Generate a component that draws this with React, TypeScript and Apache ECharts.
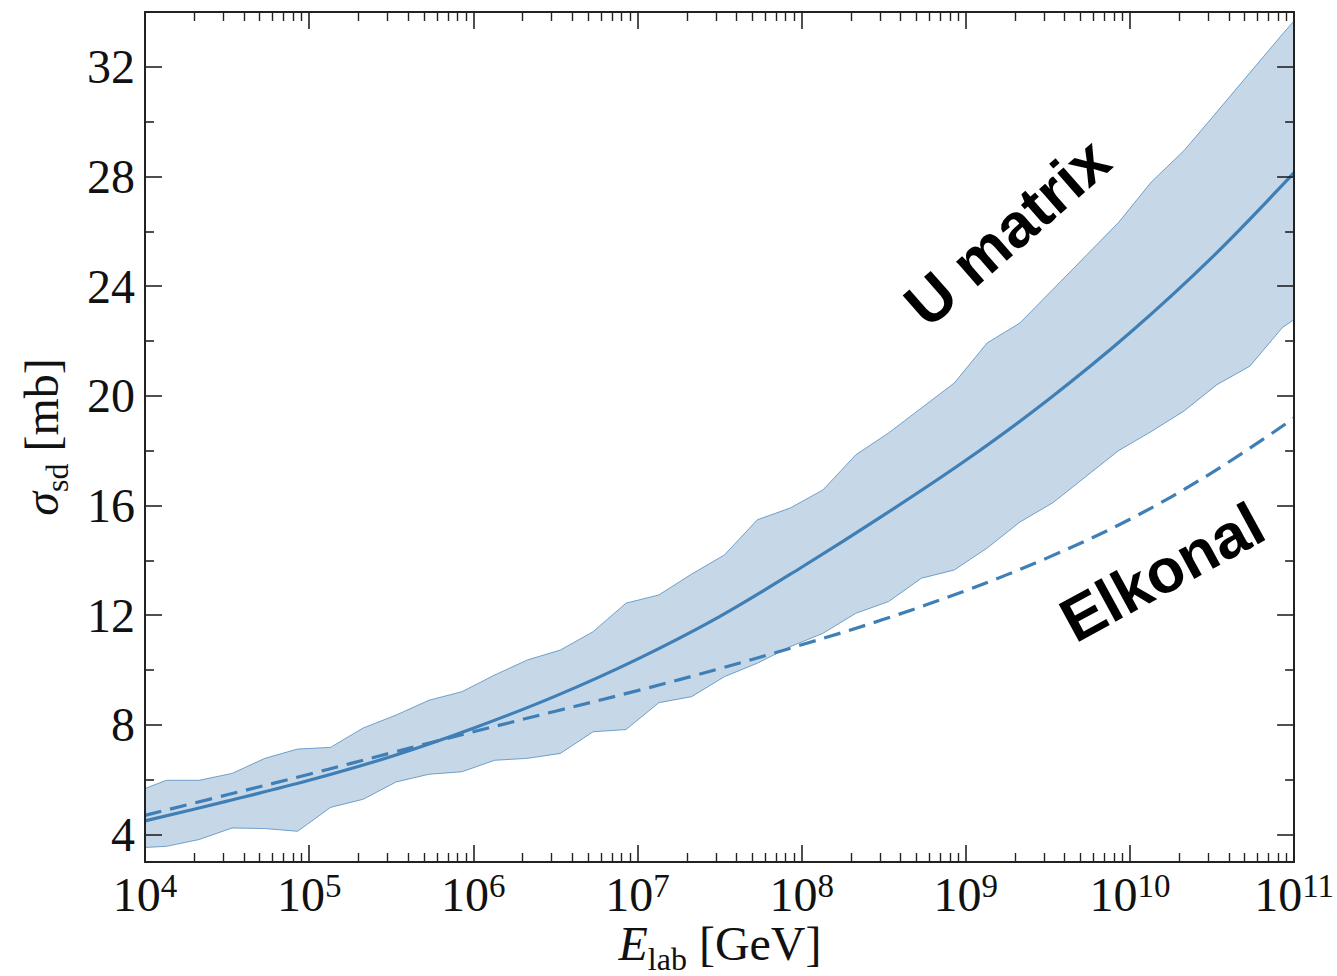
import React, { useEffect, useRef } from 'react';
import * as echarts from 'echarts';

// log10(E_lab / GeV) grid of the U-matrix uncertainty band
const bandLogE = [4.0, 4.13, 4.33, 4.53, 4.73, 4.93, 5.13, 5.33, 5.53, 5.73, 5.93, 6.13, 6.33, 6.53, 6.73, 6.93, 7.13, 7.33, 7.53, 7.73, 7.93, 8.13, 8.33, 8.53, 8.73, 8.93, 9.13, 9.33, 9.53, 9.73, 9.93, 10.13, 10.33, 10.53, 10.73, 10.93, 11.0];
const bandUpper = [5.68, 5.98, 5.98, 6.23, 6.78, 7.12, 7.18, 7.89, 8.36, 8.9, 9.21, 9.82, 10.37, 10.73, 11.4, 12.44, 12.74, 13.5, 14.2, 15.48, 15.91, 16.57, 17.85, 18.65, 19.56, 20.47, 21.93, 22.66, 23.88, 25.1, 26.32, 27.8, 28.95, 30.36, 31.78, 33.2, 33.68];
const bandLower = [3.53, 3.57, 3.82, 4.24, 4.22, 4.12, 4.99, 5.29, 5.92, 6.2, 6.29, 6.71, 6.78, 6.96, 7.75, 7.83, 8.81, 9.03, 9.76, 10.25, 10.85, 11.34, 12.07, 12.5, 13.35, 13.65, 14.45, 15.4, 16.1, 17.05, 18.0, 18.7, 19.45, 20.41, 21.08, 22.5, 22.78];

// central curves
const curveLogE = [4.0, 4.5, 5.0, 5.5, 6.0, 6.5, 7.0, 7.5, 8.0, 8.5, 9.0, 9.5, 10.0, 10.5, 11.0];
const uMatrix = [4.5, 5.22, 5.98, 6.85, 7.88, 9.05, 10.4, 11.95, 13.75, 15.65, 17.65, 19.85, 22.3, 25.05, 28.14];
const eikonal = [4.7, 5.45, 6.2, 6.98, 7.75, 8.5, 9.25, 10.05, 10.92, 11.85, 12.9, 14.1, 15.5, 17.2, 19.19];

const yMajorTicks = [4, 8, 12, 16, 20, 24, 28, 32];
const yMinorTicks = [6, 10, 14, 18, 22, 26, 30];

const BLUE = '#3f7fb6';
const SERIF = '"Liberation Serif", "DejaVu Serif", serif';
const SANS = '"Liberation Sans", Arial, sans-serif';
const AXIS_COLOR = '#222';

export default function App() {
  const ref = useRef<HTMLDivElement>(null);

  useEffect(() => {
    if (!ref.current) return;
    const chart = echarts.init(ref.current, undefined, { renderer: 'svg' });

    const xCommon = (position: 'bottom' | 'top', showLabel: boolean) => ({
      type: 'log',
      logBase: 10,
      min: 1e4,
      max: 1e11,
      position,
      z: 10,
      axisLine: { show: true, onZero: false, lineStyle: { color: AXIS_COLOR, width: 2 } },
      axisTick: { show: true, inside: true, length: 17, lineStyle: { color: AXIS_COLOR, width: 1.6 } },
      minorTick: { show: true, splitNumber: 9, length: 9, lineStyle: { color: AXIS_COLOR, width: 1.4 } },
      splitLine: { show: false },
      minorSplitLine: { show: false },
      axisLabel: {
        show: showLabel,
        margin: 6,
        formatter: (v: number) => `{b|10}{s|${Math.round(Math.log10(v))}}`,
        rich: {
          b: { fontSize: 48, fontFamily: SERIF, color: '#111', lineHeight: 50, verticalAlign: 'bottom' },
          s: { fontSize: 33, fontFamily: SERIF, color: '#111', lineHeight: 33, verticalAlign: 'bottom', padding: [0, 0, 16, 0] },
        },
      },
    });

    const yCommon = (position: 'left' | 'right', ticks: number[], len: number, showLine: boolean, showLabel: boolean) => ({
      type: 'value',
      min: 3,
      max: 34,
      position,
      z: 10,
      axisLine: { show: showLine, onZero: false, lineStyle: { color: AXIS_COLOR, width: 2 } },
      axisTick: { show: true, inside: true, length: len, customValues: ticks, lineStyle: { color: AXIS_COLOR, width: 1.6 } },
      splitLine: { show: false },
      axisLabel: {
        show: showLabel,
        customValues: ticks,
        margin: 10,
        fontSize: 48,
        fontFamily: SERIF,
        color: '#111',
      },
    });

    chart.setOption({
      animation: false,
      backgroundColor: '#fff',
      grid: { left: 145, right: 40, top: 12, bottom: 114, containLabel: false },
      xAxis: [xCommon('bottom', true), xCommon('top', false)],
      yAxis: [
        yCommon('left', yMajorTicks, 17, true, true),
        yCommon('left', yMinorTicks, 9, false, false),
        yCommon('right', yMajorTicks, 17, true, false),
        yCommon('right', yMinorTicks, 9, false, false),
      ],
      series: [
        {
          type: 'custom',
          coordinateSystem: 'cartesian2d',
          xAxisIndex: 0,
          yAxisIndex: 0,
          silent: true,
          z: 1,
          clip: true,
          data: [[1e5, 10]],
          renderItem: (_params: any, api: any) => {
            const pts: number[][] = [];
            for (let i = 0; i < bandLogE.length; i++) pts.push(api.coord([Math.pow(10, bandLogE[i]), bandUpper[i]]));
            for (let i = bandLogE.length - 1; i >= 0; i--) pts.push(api.coord([Math.pow(10, bandLogE[i]), bandLower[i]]));
            return {
              type: 'polygon',
              shape: { points: pts },
              style: { fill: 'rgba(70,130,180,0.31)', stroke: 'rgba(63,127,182,0.7)', lineWidth: 1 },
            };
          },
        },
        {
          name: 'U matrix',
          type: 'line',
          xAxisIndex: 0,
          yAxisIndex: 0,
          z: 3,
          symbol: 'none',
          smooth: 0.35,
          lineStyle: { color: BLUE, width: 3.2 },
          data: curveLogE.map((l, i) => [Math.pow(10, l), uMatrix[i]]),
        },
        {
          name: 'Eikonal',
          type: 'line',
          xAxisIndex: 0,
          yAxisIndex: 0,
          z: 3,
          symbol: 'none',
          smooth: 0.35,
          lineStyle: { color: BLUE, width: 3.2, type: [17, 9] },
          data: curveLogE.map((l, i) => [Math.pow(10, l), eikonal[i]]),
        },
      ],
      graphic: [
        {
          type: 'text',
          x: 48,
          y: 437,
          rotation: Math.PI / 2,
          style: {
            text: '{i|σ}{sub|sd}{n| [mb]}',
            align: 'center',
            verticalAlign: 'middle',
            rich: {
              i: { fontSize: 48, fontFamily: SERIF, fontStyle: 'italic', fill: '#111', lineHeight: 50, verticalAlign: 'bottom', padding: [0, 0, 8, 0] },
              sub: { fontSize: 32, fontFamily: SERIF, fill: '#111', lineHeight: 32, verticalAlign: 'bottom' },
              n: { fontSize: 48, fontFamily: SERIF, fill: '#111', lineHeight: 50, verticalAlign: 'bottom', padding: [0, 0, 8, 0] },
            },
          },
        },
        {
          type: 'text',
          x: 720,
          y: 950,
          style: {
            text: '{i|E}{sub|lab}{n| [GeV]}',
            align: 'center',
            verticalAlign: 'middle',
            rich: {
              i: { fontSize: 48, fontFamily: SERIF, fontStyle: 'italic', fill: '#111', lineHeight: 50, verticalAlign: 'bottom', padding: [0, 0, 8, 0] },
              sub: { fontSize: 32, fontFamily: SERIF, fill: '#111', lineHeight: 32, verticalAlign: 'bottom' },
              n: { fontSize: 48, fontFamily: SERIF, fill: '#111', lineHeight: 50, verticalAlign: 'bottom', padding: [0, 0, 8, 0] },
            },
          },
        },
        {
          type: 'text',
          x: 1007,
          y: 232,
          rotation: 0.72,
          style: {
            text: 'U matrix',
            font: `bold 62px ${SANS}`,
            fill: '#000',
            align: 'center',
            verticalAlign: 'middle',
          },
        },
        {
          type: 'text',
          x: 1162,
          y: 572,
          rotation: 0.5,
          style: {
            text: 'Elkonal',
            font: `bold 62px ${SANS}`,
            fill: '#000',
            align: 'center',
            verticalAlign: 'middle',
          },
        },
      ],
    });

    return () => chart.dispose();
  }, []);

  return (
    <div
      ref={ref}
      style={{ position: 'fixed', left: 0, top: 0, width: 1337, height: 976, background: '#fff' }}
    />
  );
}
